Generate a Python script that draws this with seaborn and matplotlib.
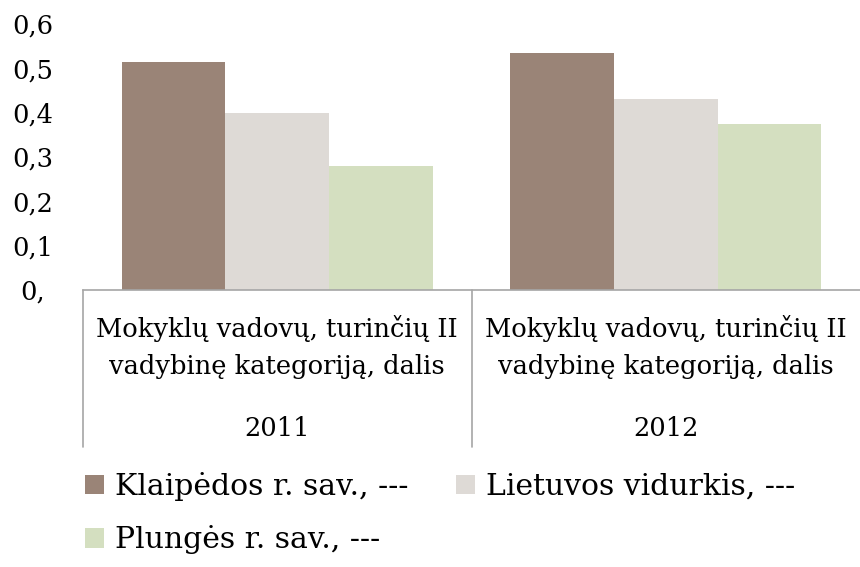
import matplotlib
matplotlib.use("Agg")
import matplotlib.pyplot as plt
import matplotlib.transforms as mtransforms
from matplotlib.patches import Patch
import seaborn as sns
import pandas as pd

# ---- data ----
years = ["2011", "2012"]
indicator = "Mokyklų vadovų, turinčių II\nvadybinę kategoriją, dalis"
series = ["Klaipėdos r. sav., ---", "Lietuvos vidurkis, ---", "Plungės r. sav., ---"]
klaipedos = [0.515, 0.535]
lietuvos = [0.40, 0.43]
plunges = [0.28, 0.375]
colors = ["#9a8477", "#dedad6", "#d4dfc0"]
yticks = [0.0, 0.1, 0.2, 0.3, 0.4, 0.5, 0.6]
ytick_labels = ["0,", "0,1", "0,2", "0,3", "0,4", "0,5", "0,6"]

sns.set_theme(style="white")
plt.rcParams["font.family"] = ["DejaVu Serif"]
plt.rcParams["text.color"] = "black"

df = pd.DataFrame({
    "Metai": years * 3,
    "Serija": [s for s in series for _ in years],
    "Reikšmė": klaipedos + lietuvos + plunges,
})

W, H = 860, 567
fig = plt.figure(figsize=(W / 100, H / 100), dpi=100)
ax = fig.add_axes([83 / W, 1 - 290 / H, 777 / W, 266 / H])

sns.barplot(data=df, x="Metai", y="Reikšmė", hue="Serija", hue_order=series,
            palette=colors, width=0.8, saturation=1, linewidth=0,
            ax=ax, legend=False)

ax.set_xlim(-0.5, 1.5)
ax.set_ylim(0, 0.6)
ax.set_xlabel("")
ax.set_ylabel("")
for s in ["top", "right", "left"]:
    ax.spines[s].set_visible(False)
gray = "#a6a6a6"
ax.spines["bottom"].set_color(gray)
ax.spines["bottom"].set_linewidth(1.2)

fs = 18.5
ax.set_yticks(yticks)
ax.set_yticklabels(ytick_labels, fontsize=fs, color="black")
ax.tick_params(axis="y", length=0, pad=21.5)
# shift the "0," label slightly left
lab0 = ax.get_yticklabels()[0]
lab0.set_transform(lab0.get_transform() + mtransforms.ScaledTranslation(-8 / 100, 0, fig.dpi_scale_trans))

ax.set_xticks([0, 1])
ax.set_xticklabels([indicator, indicator], fontsize=fs, color="black", linespacing=1.6)
ax.tick_params(axis="x", length=0, pad=18)

trans = mtransforms.blended_transform_factory(ax.transData, ax.transAxes)
for i, y in enumerate(years):
    ax.text(i, (290 - 428) / 266, y, transform=trans, ha="center", va="center",
            fontsize=fs, color="black")

for xv in [-0.5, 0.5]:
    ax.plot([xv, xv], [0, (290 - 447) / 266], transform=trans, color=gray,
            linewidth=1.2, clip_on=False)

handles = [Patch(facecolor=c, edgecolor="none") for c in colors]
order = [0, 2, 1]
fig.legend([handles[i] for i in order], [series[i] for i in order],
           loc="upper left", bbox_to_anchor=(85 / W, 1 - 472 / H), ncol=2,
           frameon=False, fontsize=21.5, borderpad=0, borderaxespad=0,
           handlelength=0.64, handleheight=0.64, handletextpad=0.37,
           columnspacing=1.57, labelspacing=0.81, labelcolor="black")

fig.savefig("out.png", dpi=100)
